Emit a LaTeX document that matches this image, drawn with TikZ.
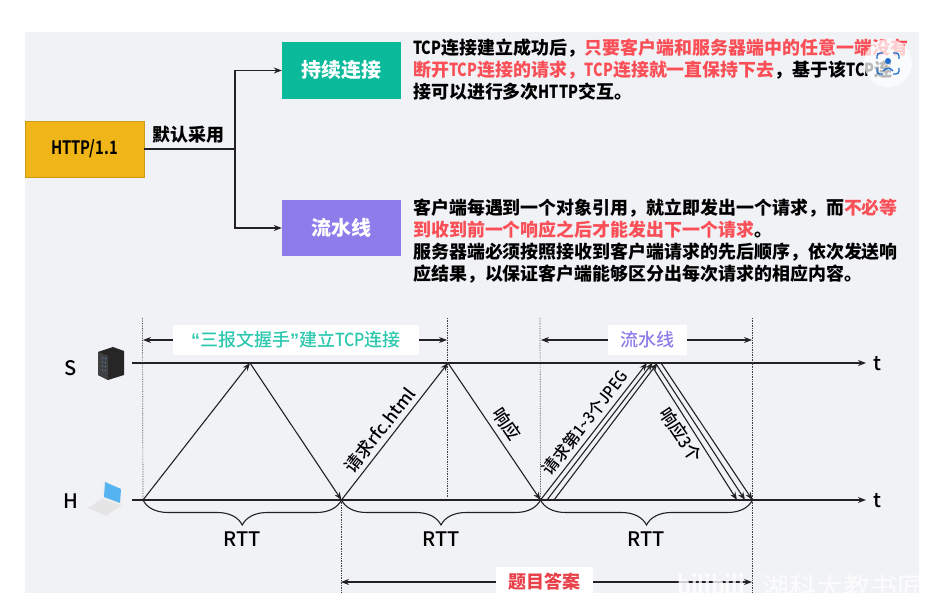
\documentclass[tikz,border=0pt]{standalone}
\usepackage{fontspec}
\setmainfont{Noto Sans CJK SC}
\newfontfamily\mediumfont{Noto Sans CJK SC Medium}
\newfontfamily\narrowbold[FakeStretch=.8]{Noto Sans CJK SC Bold}
\newfontfamily\narrowmedium[FakeStretch=.88]{Noto Sans CJK SC Medium}
\newfontfamily\quotefont{Liberation Sans}
\newcommand{\nb}[1]{{\narrowbold #1}}
\newcommand{\nm}[1]{{\narrowmedium #1}}
\usetikzlibrary{arrows.meta}
\usetikzlibrary{decorations.pathreplacing}
\definecolor{panelgray}{HTML}{F0F2F5}
\definecolor{httpyellow}{HTML}{F0B518}
\definecolor{keepgreen}{HTML}{0ABA9A}
\definecolor{pipepurple}{HTML}{8E7CEB}
\definecolor{notered}{HTML}{FB4F57}
\definecolor{handteal}{HTML}{2CC8AE}
\definecolor{answerred}{HTML}{E8414A}
\definecolor{lensblue}{HTML}{1E6FCC}
\definecolor{screenblue}{HTML}{55B4F0}
\definecolor{darkline}{HTML}{222222}
\begin{document}
\begin{tikzpicture}[x=1pt,y=-1pt,>={Stealth[length=8pt,width=6pt]}]
		\tikzset{typebox/.style = {shape=rectangle, minimum width=119pt, minimum height=56.5pt, inner sep=0pt, font=\bfseries\fontsize{20}{20}\selectfont}}
		\tikzset{noteline/.style = {anchor=west, inner sep=0pt, font=\bfseries\fontsize{17.95}{22}\selectfont}}
		\tikzset{spanlabel/.style = {fill=white, inner sep=0pt, font=\mediumfont\fontsize{18}{18}\selectfont}}
		\tikzset{msglabel/.style = {inner sep=0pt, font=\mediumfont\fontsize{17.5}{18}\selectfont}}
		\tikzset{axisline/.style = {line width=1.3pt, darkline, ->}}
		\tikzset{msgline/.style = {line width=1.1pt, darkline}}
		\tikzset{flowline/.style = {line width=1.1pt, darkline}}
		\tikzset{guide/.style = {densely dotted, black!75, line width=.7pt}}
		\tikzset{rttbrace/.style = {line width=1.1pt, darkline, decorate, decoration={brace,mirror,amplitude=25pt}}}
		\tikzset{plainlabel/.style = {inner sep=0pt, font=\mediumfont\fontsize{20}{20}\selectfont}}
		\useasboundingbox (0,0) rectangle (943,593);
		\fill[panelgray] (25,32) rectangle (919,593);
		
		% upper part
		\node[typebox, fill=httpyellow, draw=httpyellow!85!black, font=\narrowbold\fontsize{18.5}{19}\selectfont] (http) at (84.5,149) {HTTP/1.1};
		\node[typebox, fill=keepgreen, text=white] (keep) at (341.5,70.5) {持续连接};
		\node[typebox, fill=pipepurple, text=white] (pipe) at (341.5,228) {流水线};
		\coordinate (fork) at (235,149);
		\draw[flowline] (http.east) -- (fork);
		\draw[flowline, ->] (fork) |- (keep.west);
		\draw[flowline, ->] (fork) |- (pipe.west);
		\node[inner sep=0pt, font=\bfseries\fontsize{18}{18}\selectfont] (usedefault) at (188.5,135) {默认采用};
		
		\node[noteline] (keepa) at (413,48) {\nb{TCP}连接建立成功后，\textcolor{notered}{只要客户端和服务器端中的任意一端没有}};
		\node[noteline] (keepb) at (413,70) {\textcolor{notered}{断开\nb{TCP}连接的请求，\nb{TCP}连接就一直保持下去}，基于该\nb{TCP}连};
		\node[noteline] (keepc) at (413,92) {接可以进行多次\nb{HTTP}交互。};
		\node[noteline] (pipea) at (413,208) {客户端每遇到一个对象引用，就立即发出一个请求，而\textcolor{notered}{不必等}};
		\node[noteline] (pipeb) at (413,230) {\textcolor{notered}{到收到前一个响应之后才能发出下一个请求}。};
		\node[noteline] (pipec) at (413,252) {服务器端必须按照接收到客户端请求的先后顺序，依次发送响};
		\node[noteline] (piped) at (413,274) {应结果，以保证客户端能够区分出每次请求的相应内容。};
		
		% lens badge
		\fill[white, opacity=.72] (888,63) circle (24);
		\draw[lensblue, line width=1.3pt, rounded corners=3pt] (877,59) |- (883,53) (893,53) -| (899,59) (899,68) |- (893,74) (883,74) -| (877,68);
		\fill[lensblue] (888,61) circle (3);
		\draw[lensblue, line width=1.3pt] (883,71) to[bend left=60] (893,71);
		
		% time axes
		\coordinate (Sstart) at (132,363);
		\coordinate (Send) at (866,363);
		\coordinate (Hstart) at (132,500);
		\coordinate (Hend) at (866,500);
		\draw[axisline] (Sstart) -- (Send);
		\draw[axisline] (Hstart) -- (Hend);
		\node[plainlabel] (Slabel) at (71,368) {S};
		\node[plainlabel] (Hlabel) at (71,501) {H};
		\node[plainlabel] (St) at (877,364) {t};
		\node[plainlabel] (Ht) at (877,501) {t};
		
		% server and laptop
		\fill[black!85] (98,352) -- (113,347) -- (124,351) -- (124,375) -- (108,380) -- (98,375) -- cycle;
		\fill[black!75] (98,352) -- (108,356) -- (108,380) -- (98,375) -- cycle;
		\foreach \y in {358,362,366,370}
			\draw[cyan!50!blue!70, line width=1pt, dotted] (102,\y) -- (107,\y+1);
		\fill[black!10] (88,508) -- (103,498) -- (122,505) -- (106,516) -- cycle;
		\fill[black!6] (102,499) -- (103,480) -- (123,488) -- (122,505) -- cycle;
		\fill[screenblue] (104,497) -- (105,482) -- (121,489) -- (120,503) -- cycle;
		
		% guides
		\coordinate (Ha) at (143,500);
		\coordinate (Sa) at (250,363);
		\coordinate (Hb) at (341.5,500);
		\coordinate (Sb) at (448,363);
		\coordinate (Hc) at (540.5,500);
		\coordinate (Hd) at (752.5,500);
		\draw[guide] (142.5,318) -- (Ha);
		\draw[guide] (447,318) -- (447,497);
		\draw[guide] (540,318) -- (Hc);
		\draw[guide] (752.5,318) -- (752.5,593);
		\draw[guide] (341,500) -- (341,593);
		
		% messages
		\draw[msgline, ->] (Ha) -- (Sa);
		\draw[msgline, ->] (Sa) -- (Hb);
		\draw[msgline, ->] (Hb) -- (Sb);
		\draw[msgline, ->] (Sb) -- (Hc);
		\foreach \a/\b/\c/\d in {540.5/647/650/737, 547/652.5/655.5/745, 554/657.5/661/752.5}{
			\draw[msgline, ->] (\a,500) -- (\b,363);
			\draw[msgline, ->] (\c,363) -- (\d,500);
		}
		\node[msglabel, rotate=52] (reqhtml) at (380,430) {请求rfc.html};
		\node[msglabel, rotate=-56] (resphtml) at (507,424) {响应};
		\node[msglabel, rotate=52, font=\mediumfont\fontsize{16.5}{18}\selectfont] (reqjpeg) at (585,423) {请求第\nm{1\textasciitilde3}个\nm{JPEG}};
		\node[msglabel, rotate=-56] (respjpeg) at (681,435) {响应\nm{3}个};
		
		% RTT braces
		\draw[rttbrace] (Ha) -- (Hb);
		\draw[rttbrace] (Hb) -- (Hc);
		\draw[rttbrace] (Hc) -- (Hd);
		\node[plainlabel] (rtta) at (242,539) {RTT};
		\node[plainlabel] (rttb) at (441,539) {RTT};
		\node[plainlabel] (rttc) at (646,539) {RTT};
		
		% spans
		\coordinate (spanAl) at (143,340);
		\coordinate (spanAr) at (447,340);
		\coordinate (spanBl) at (541,340);
		\coordinate (spanBr) at (752,340);
		\coordinate (spanCl) at (341,582);
		\coordinate (spanCr) at (752,582);
		\draw[flowline, <->] (spanAl) -- (spanAr);
		\draw[flowline, <->] (spanBl) -- (spanBr);
		\draw[flowline, <->] (spanCl) -- (spanCr);
		\node[spanlabel, minimum width=246pt, minimum height=30pt, text=handteal] (handshake) at (296,340) {{\quotefont\bfseries “}三报文握手{\quotefont\bfseries ”}建立\nm{TCP}连接};
		\node[spanlabel, minimum width=79pt, minimum height=30pt, text=pipepurple] (pipespan) at (647.5,340) {流水线};
		\node[spanlabel, minimum width=97pt, minimum height=30pt, text=answerred, font=\bfseries\fontsize{18}{18}\selectfont] (answer) at (544.5,582) {题目答案};
		
		% watermark
		\begin{scope}
			\clip (25,32) rectangle (919,593);
			\node[anchor=west, inner sep=0pt, text=white, opacity=.8, font=\narrowbold\fontsize{27}{27}\selectfont] (bili) at (677,585) {bilibili};
			\node[anchor=west, inner sep=0pt, text=white, opacity=.8, font=\fontsize{27}{27}\selectfont] (mark) at (762,587) {湖科大教书匠};
		\end{scope}
		
		\end{tikzpicture}
\end{document}
